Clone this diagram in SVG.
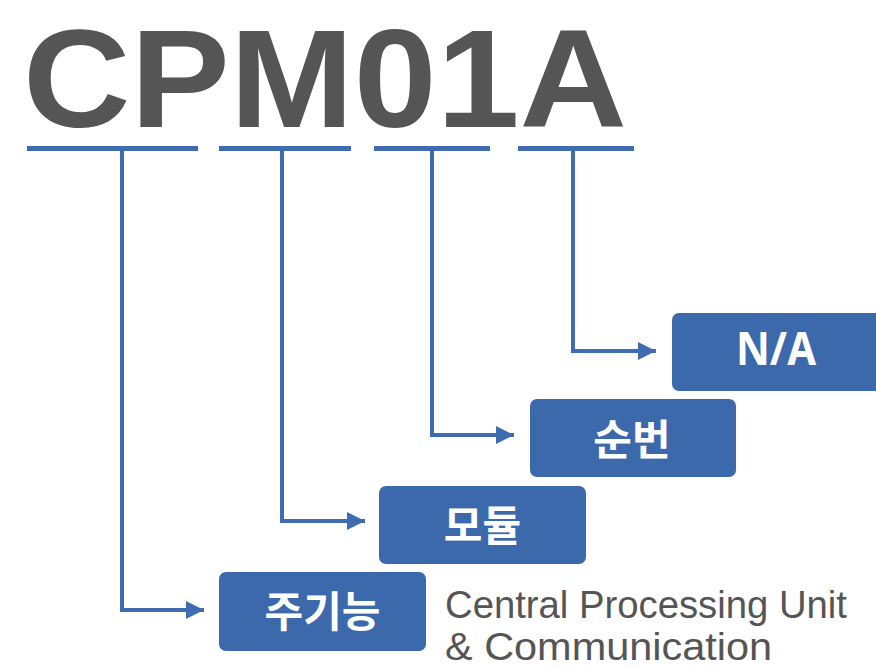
<svg xmlns="http://www.w3.org/2000/svg" width="876" height="669" viewBox="0 0 876 669">
<defs>
<style>
.title{font-family:"Liberation Sans",Arial,sans-serif;font-weight:bold;font-size:140px;fill:#555555}
.ul{fill:#3F6CB0}
.conn{fill:none;stroke:#3F6CB0;stroke-width:4;stroke-linejoin:miter}
.box{fill:#3C69AC}
.ko{font-family:"Noto Sans CJK KR","Noto Sans",sans-serif;font-weight:bold;font-size:42px;fill:#ffffff;text-anchor:middle}
.lat{font-family:"Noto Sans","Liberation Sans",sans-serif;font-weight:bold;font-size:46px;fill:#ffffff;text-anchor:middle}
.cap{font-family:"Liberation Sans",Arial,sans-serif;font-size:38px;fill:#555555}
</style>
<marker id="arr" markerUnits="userSpaceOnUse" markerWidth="18" markerHeight="18" refX="18" refY="9" orient="auto">
<path d="M0,0 L18,9 L0,18 Z" fill="#3F6CB0"/>
</marker>
</defs>
<rect width="876" height="669" fill="#ffffff"/>
<text class="title" x="23" y="127" textLength="604" lengthAdjust="spacingAndGlyphs">CPM01A</text>
<g id="underlines">
<rect class="ul" x="27" y="146" width="171" height="5"/>
<rect class="ul" x="219" y="146" width="132" height="5"/>
<rect class="ul" x="374" y="146" width="116" height="5"/>
<rect class="ul" x="518" y="146" width="116" height="5"/>
</g>
<g id="connectors">
<path class="conn" d="M122 149 V610 H204" marker-end="url(#arr)"/>
<path class="conn" d="M282 149 V521 H365" marker-end="url(#arr)"/>
<path class="conn" d="M432 149 V435 H514" marker-end="url(#arr)"/>
<path class="conn" d="M573 149 V351 H656" marker-end="url(#arr)"/>
</g>
<g id="node-na">
<rect class="box" x="672" y="313" width="214" height="78" rx="7"/>
<text class="lat" x="776" y="365" textLength="80" lengthAdjust="spacingAndGlyphs">N/A</text>
</g>
<g id="node-sunbeon">
<rect class="box" x="530" y="399" width="206" height="78" rx="7"/>
<text class="ko" x="632" y="455">순번</text>
</g>
<g id="node-module">
<rect class="box" x="379" y="486" width="207" height="78" rx="7"/>
<text class="ko" x="482.5" y="541">모듈</text>
</g>
<g id="node-main">
<rect class="box" x="219" y="572" width="207" height="79" rx="7"/>
<text class="ko" x="322.5" y="627">주기능</text>
</g>
<g id="caption">
<text class="cap" x="445" y="618" textLength="402" lengthAdjust="spacingAndGlyphs">Central Processing Unit</text>
<text class="cap" x="445" y="660" textLength="327" lengthAdjust="spacingAndGlyphs">&amp; Communication</text>
</g>
</svg>
